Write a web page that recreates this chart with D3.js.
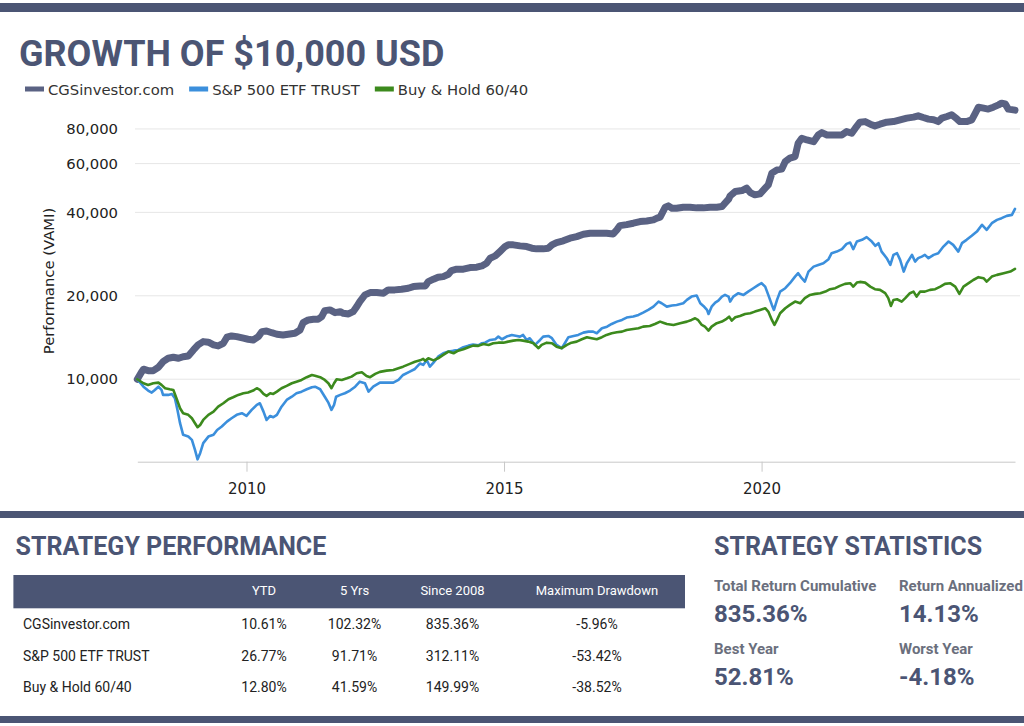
<!DOCTYPE html>
<html><head><meta charset="utf-8">
<script src="https://cdn.jsdelivr.net/npm/d3@7"></script>
<style>body{margin:0;background:#fff}svg{display:block}</style>
</head><body><svg id="c" width="1024" height="726"></svg>
<script>
// ---------- DATA ----------
const seriesNames = ["CGSinvestor.com", "S&P 500 ETF TRUST", "Buy & Hold 60/40"];

const cgsYears = [2007.88,2007.96,2008.00,2008.09,2008.19,2008.29,2008.38,2008.48,2008.58,2008.68,2008.77,2008.87,2008.97,2009.06,2009.16,2009.26,2009.36,2009.45,2009.55,2009.62,2009.71,2009.81,2009.94,2010.03,2010.13,2010.23,2010.30,2010.39,2010.49,2010.59,2010.71,2010.84,2010.94,2011.04,2011.10,2011.20,2011.30,2011.39,2011.46,2011.52,2011.62,2011.72,2011.82,2011.88,2011.98,2012.07,2012.14,2012.20,2012.30,2012.40,2012.53,2012.66,2012.75,2012.88,2013.01,2013.14,2013.24,2013.37,2013.47,2013.53,2013.63,2013.72,2013.82,2013.92,2013.98,2014.08,2014.21,2014.34,2014.47,2014.57,2014.66,2014.73,2014.83,2014.92,2015.02,2015.08,2015.18,2015.31,2015.44,2015.54,2015.63,2015.76,2015.86,2015.93,2016.02,2016.15,2016.28,2016.41,2016.54,2016.67,2016.86,2016.99,2017.12,2017.19,2017.25,2017.38,2017.51,2017.64,2017.77,2017.90,2017.97,2018.03,2018.13,2018.19,2018.26,2018.35,2018.48,2018.61,2018.74,2018.87,2019.00,2019.13,2019.23,2019.29,2019.36,2019.39,2019.49,2019.62,2019.71,2019.78,2019.87,2019.97,2020.07,2020.13,2020.20,2020.30,2020.39,2020.46,2020.55,2020.65,2020.71,2020.78,2020.88,2021.01,2021.10,2021.17,2021.27,2021.39,2021.56,2021.65,2021.75,2021.82,2021.91,2022.01,2022.11,2022.20,2022.30,2022.43,2022.56,2022.69,2022.82,2022.95,2023.04,2023.14,2023.24,2023.34,2023.43,2023.50,2023.60,2023.69,2023.79,2023.85,2023.98,2024.08,2024.15,2024.21,2024.31,2024.40,2024.50,2024.60,2024.66,2024.73,2024.79,2024.92];
const cgsValues = [10000,10600,10870,10740,10740,11050,11570,11900,12000,11900,12060,12130,12760,13300,13670,13600,13300,13190,13480,14180,14330,14250,14060,13940,13860,14250,14850,14930,14720,14530,14450,14570,14650,15060,16000,16370,16460,16460,16820,17680,17790,17390,17530,17300,17200,17530,18280,19050,20150,20540,20540,20440,21010,21010,21130,21300,21590,21710,21710,22500,22960,23340,23460,23930,24660,24950,24950,25280,25370,25640,26220,27340,27860,28880,30110,30540,30540,30280,30110,29710,29540,29540,29710,30540,31130,31570,32280,32710,33370,33650,33650,33650,33450,34580,35830,36130,36560,37050,37260,37580,38120,38430,41770,42220,41420,41420,41770,41770,41530,41530,41770,41770,41990,43170,44650,45890,47560,47950,48920,47160,46280,46660,48920,50280,55420,56960,57290,61020,62770,63610,71020,74040,73000,71980,76110,77600,76110,76110,76110,78240,77210,80530,84620,85040,83220,82060,83220,84620,85040,86310,87540,88270,89230,87970,86820,86310,85040,87540,88710,89970,87040,85040,85040,86310,91250,95890,95100,94350,95890,97730,99120,98550,94350,93540];

const spyYears = [2007.88,2008.00,2008.09,2008.16,2008.22,2008.29,2008.35,2008.38,2008.48,2008.55,2008.61,2008.66,2008.71,2008.77,2008.87,2008.94,2009.00,2009.05,2009.10,2009.16,2009.26,2009.36,2009.43,2009.52,2009.62,2009.71,2009.81,2009.91,2010.00,2010.10,2010.20,2010.26,2010.33,2010.39,2010.46,2010.52,2010.59,2010.68,2010.78,2010.88,2010.97,2011.07,2011.17,2011.27,2011.33,2011.43,2011.52,2011.59,2011.65,2011.70,2011.74,2011.82,2011.91,2012.01,2012.11,2012.20,2012.30,2012.37,2012.46,2012.59,2012.72,2012.85,2012.95,2013.04,2013.17,2013.27,2013.37,2013.43,2013.50,2013.56,2013.63,2013.72,2013.82,2013.92,2014.02,2014.11,2014.21,2014.31,2014.40,2014.50,2014.57,2014.63,2014.73,2014.83,2014.89,2014.96,2015.05,2015.15,2015.25,2015.31,2015.37,2015.44,2015.50,2015.60,2015.70,2015.76,2015.86,2015.93,2016.02,2016.12,2016.18,2016.25,2016.35,2016.44,2016.54,2016.64,2016.73,2016.80,2016.90,2017.00,2017.09,2017.19,2017.29,2017.38,2017.51,2017.61,2017.70,2017.80,2017.90,2018.00,2018.06,2018.16,2018.26,2018.35,2018.48,2018.55,2018.64,2018.74,2018.81,2018.87,2018.94,2018.97,2019.03,2019.10,2019.16,2019.23,2019.29,2019.36,2019.39,2019.45,2019.55,2019.65,2019.74,2019.84,2019.94,2020.00,2020.07,2020.13,2020.20,2020.24,2020.30,2020.36,2020.46,2020.55,2020.65,2020.71,2020.78,2020.84,2020.91,2021.01,2021.10,2021.20,2021.30,2021.36,2021.46,2021.56,2021.65,2021.72,2021.78,2021.85,2021.95,2022.04,2022.14,2022.21,2022.27,2022.33,2022.43,2022.50,2022.56,2022.63,2022.69,2022.76,2022.82,2022.92,2022.98,2023.04,2023.11,2023.17,2023.24,2023.34,2023.43,2023.53,2023.63,2023.72,2023.82,2023.89,2023.98,2024.08,2024.18,2024.28,2024.37,2024.47,2024.57,2024.66,2024.76,2024.86,2024.92];
const spyValues = [10000,9400,9100,8950,9150,9400,9150,8780,8780,8850,8540,7750,6940,6300,6210,6040,5560,5140,5410,5880,6210,6300,6560,6750,7030,7230,7440,7540,7370,7750,8080,8190,7640,7130,7370,7290,7440,7960,8420,8650,8900,9020,9200,9360,9400,9200,8650,8230,7750,8080,8650,8780,8900,9100,9400,9800,9670,9020,9400,9720,9720,9720,9940,10360,10650,10890,11400,11260,11740,11100,11480,12060,12410,12580,12680,12750,13050,13220,13330,13260,13490,13550,13860,13940,14250,13940,14250,14450,14330,14250,14450,13860,14060,13300,13860,14250,14330,14060,13300,12940,13490,14180,14330,14450,14730,14850,14850,14650,15280,15480,15830,16140,16370,16690,16830,17060,17390,17790,18280,19050,18800,18280,18440,18540,18800,19330,19870,20040,18800,18390,17790,17200,18280,18900,19210,19870,20150,19870,19060,19870,20440,20150,20710,21300,21900,22210,21590,20150,18540,17790,19330,20710,21300,22210,23460,24140,23150,22510,24460,25490,25850,26220,27110,28500,28880,29460,30790,31130,29460,31390,31840,32570,31390,30290,30970,28880,27340,25850,28100,28500,26960,24460,26220,28100,26580,27340,27710,28100,27340,28100,28500,30110,31390,30540,28880,30970,31840,32920,34100,36070,34590,36560,37580,38120,38860,39180,41210];

const mixYears = [2007.88,2008.00,2008.09,2008.19,2008.29,2008.35,2008.42,2008.51,2008.58,2008.64,2008.71,2008.77,2008.87,2008.94,2009.00,2009.05,2009.10,2009.16,2009.26,2009.36,2009.45,2009.55,2009.65,2009.74,2009.84,2009.94,2010.03,2010.13,2010.20,2010.26,2010.33,2010.39,2010.46,2010.52,2010.59,2010.68,2010.78,2010.88,2010.97,2011.07,2011.17,2011.27,2011.33,2011.43,2011.52,2011.59,2011.65,2011.70,2011.75,2011.85,2011.95,2012.04,2012.14,2012.24,2012.33,2012.40,2012.50,2012.59,2012.72,2012.85,2012.95,2013.04,2013.17,2013.27,2013.37,2013.43,2013.47,2013.53,2013.63,2013.72,2013.82,2013.92,2014.02,2014.11,2014.21,2014.31,2014.40,2014.50,2014.60,2014.70,2014.79,2014.89,2014.99,2015.08,2015.18,2015.28,2015.37,2015.47,2015.57,2015.67,2015.73,2015.83,2015.93,2016.02,2016.12,2016.22,2016.31,2016.41,2016.51,2016.61,2016.70,2016.80,2016.90,2016.99,2017.09,2017.19,2017.29,2017.38,2017.51,2017.61,2017.70,2017.83,2017.93,2018.03,2018.09,2018.16,2018.29,2018.42,2018.55,2018.64,2018.71,2018.77,2018.84,2018.90,2018.97,2019.03,2019.13,2019.23,2019.32,2019.37,2019.42,2019.49,2019.58,2019.68,2019.78,2019.87,2019.97,2020.07,2020.13,2020.20,2020.25,2020.30,2020.36,2020.46,2020.55,2020.65,2020.75,2020.84,2020.94,2021.04,2021.14,2021.24,2021.33,2021.43,2021.52,2021.62,2021.72,2021.78,2021.85,2021.91,2022.01,2022.11,2022.20,2022.30,2022.40,2022.46,2022.51,2022.56,2022.63,2022.72,2022.79,2022.88,2022.95,2023.01,2023.08,2023.17,2023.27,2023.37,2023.47,2023.56,2023.66,2023.76,2023.84,2023.92,2024.02,2024.11,2024.21,2024.31,2024.37,2024.47,2024.57,2024.70,2024.83,2024.92];
const mixValues = [10000,9670,9540,9670,9720,9540,9280,9200,9150,8540,7860,7540,7440,7230,6940,6710,6840,7130,7440,7640,7960,8190,8470,8610,8780,8900,8950,9100,9280,9150,8850,8710,8900,8850,9020,9280,9460,9670,9800,9940,10170,10360,10300,10170,9940,9670,9280,9670,10000,9940,10080,10220,10510,10600,10280,10170,10450,10630,10740,10800,10960,11100,11360,11570,11700,11840,11650,11900,11700,11900,12240,12580,12410,12680,12830,13050,13220,13190,13410,13300,13490,13550,13550,13670,13780,13860,13780,13670,13490,12940,13300,13550,13490,13110,12940,13300,13550,13670,13940,14180,14060,13940,14180,14450,14650,14770,14850,15060,15190,15280,15480,15570,15830,16140,16000,15830,15700,15930,16140,16370,16600,16330,15700,15480,14980,15480,15930,16140,16520,16820,16280,16740,16920,17200,17300,17540,17790,18040,17540,16370,15700,16370,17300,18040,18540,19060,18800,19610,20150,20320,20440,20710,21130,21310,21720,22080,22210,21590,22320,22450,22320,21590,21130,21010,20440,19610,18390,19330,19440,19060,19610,20440,20710,19870,20710,20710,21010,21130,21590,22080,22210,21590,20320,21590,22210,22810,23350,23150,22510,23460,23800,24140,24460,25000];

const yTickValues = [10000, 20000, 40000, 60000, 80000];
const xTickValues = [2010, 2015, 2020];

const tableColumns = ["YTD", "5 Yrs", "Since 2008", "Maximum Drawdown"];
const tableRowNames = ["CGSinvestor.com", "S&P 500 ETF TRUST", "Buy & Hold 60/40"];
const ytdValues = ["10.61%", "26.77%", "12.80%"];
const fiveYearValues = ["102.32%", "91.71%", "41.59%"];
const since2008Values = ["835.36%", "312.11%", "149.99%"];
const maxDrawdownValues = ["-5.96%", "-53.42%", "-38.52%"];

const statLabels = ["Total Return Cumulative", "Return Annualized", "Best Year", "Worst Year"];
const statValues = ["835.36%", "14.13%", "52.81%", "-4.18%"];

// ---------- STYLE ----------
const slate = "#4b5574";
const colors = ["#5a6283", "#3b8fdc", "#3c8a1d"];
const widths = [7, 2.6, 2.6];

const svg = d3.select("#c");

// bars
[[3, 9], [511, 7], [716, 7]].forEach(([yy, h]) =>
  svg.append("rect").attr("x", 0).attr("y", yy).attr("width", 1024).attr("height", h).attr("fill", slate));

// title
svg.append("text").attr("x", 19).attr("y", 66).text("GROWTH OF $10,000 USD")
  .attr("font-family", "Roboto").attr("font-weight", 700).attr("font-size", 36).attr("fill", slate);

// legend
let lx = 25;
seriesNames.forEach((n, i) => {
  svg.append("rect").attr("x", lx).attr("y", 86.5).attr("width", 19).attr("height", 5).attr("fill", colors[i]);
  const t = svg.append("text").attr("x", lx + 23).attr("y", 94.5).text(n)
    .attr("font-family", "DejaVu Sans").attr("font-size", 14.8).attr("fill", "#333");
  lx += 23 + t.node().getComputedTextLength() + 15;
});

// scales
const x = d3.scaleLinear().domain([2007.88, 2024.92]).range([137.3, 1015]);
const y = d3.scaleLog().domain([5040, 100000]).range([461.7, 102.1]);

// gridlines
svg.append("g").selectAll("line").data(yTickValues).join("line")
  .attr("x1", 135).attr("x2", 1020).attr("y1", d => y(d)).attr("y2", d => y(d))
  .attr("stroke", "#e6e6e6").attr("stroke-width", 1);

// y axis
const yAxis = svg.append("g").attr("transform", "translate(135,0)")
  .call(d3.axisLeft(y).tickValues(yTickValues).tickFormat(d3.format(",")).tickSize(0).tickPadding(17));
yAxis.select(".domain").remove();
yAxis.selectAll("text").attr("font-family", "DejaVu Sans").attr("font-size", 14.8).attr("fill", "#222");

svg.append("text").attr("transform", "translate(48.5,281) rotate(-90)")
  .attr("text-anchor", "middle").attr("dominant-baseline", "central")
  .attr("font-family", "DejaVu Sans").attr("font-size", 14.8).attr("fill", "#222")
  .text("Performance (VAMI)");

// x axis
const xAxis = svg.append("g").attr("transform", `translate(0,${y(5040)})`)
  .call(d3.axisBottom(x).tickValues(xTickValues).tickFormat(d3.format("d")).tickSize(10).tickSizeOuter(0).tickPadding(12));
xAxis.select(".domain").attr("stroke", "#c8c8c8");
xAxis.selectAll(".tick line").attr("stroke", "#c8c8c8");
xAxis.selectAll("text").attr("font-family", "DejaVu Sans").attr("font-size", 15).attr("fill", "#222");

// lines
const line = d3.line().x(d => x(d[0])).y(d => y(d[1]));
const series = [
  d3.zip(cgsYears, cgsValues),
  d3.zip(spyYears, spyValues),
  d3.zip(mixYears, mixValues)
];
series.forEach((s, i) => {
  svg.append("path").datum(s).attr("d", line).attr("fill", "none")
    .attr("stroke", colors[i]).attr("stroke-width", widths[i])
    .attr("stroke-linejoin", "round").attr("stroke-linecap", "round");
});

// strategy performance
svg.append("text").attr("x", 15.6).attr("y", 555).text("STRATEGY PERFORMANCE")
  .attr("font-family", "Roboto").attr("font-weight", 700).attr("font-size", 25).attr("fill", slate);

svg.append("rect").attr("x", 13.4).attr("y", 575).attr("width", 671.6).attr("height", 33.3).attr("fill", slate);
const colX = [264, 354.5, 452.5, 597];
tableColumns.forEach((c, i) => {
  svg.append("text").attr("x", colX[i]).attr("y", 595).attr("text-anchor", "middle").text(c)
    .attr("font-family", "Roboto").attr("font-size", 13).attr("fill", "#fff");
});
const cols = [ytdValues, fiveYearValues, since2008Values, maxDrawdownValues];
const rowY = [629, 660.7, 692.3];
tableRowNames.forEach((r, j) => {
  svg.append("text").attr("x", 23).attr("y", rowY[j]).text(r)
    .attr("font-family", "Roboto").attr("font-size", 14).attr("fill", "#222");
  cols.forEach((col, i) => {
    svg.append("text").attr("x", colX[i]).attr("y", rowY[j]).attr("text-anchor", "middle").text(col[j])
      .attr("font-family", "Roboto").attr("font-size", 14).attr("fill", "#222");
  });
});

// strategy statistics
svg.append("text").attr("x", 714).attr("y", 555).text("STRATEGY STATISTICS")
  .attr("font-family", "Roboto").attr("font-weight", 700).attr("font-size", 25).attr("fill", slate);
const statX = [714, 899, 714, 899];
const statLabelY = [591, 591, 654, 654];
const statValueY = [622, 622, 685, 685];
statLabels.forEach((l, i) => {
  svg.append("text").attr("x", statX[i]).attr("y", statLabelY[i]).text(l)
    .attr("font-family", "Roboto").attr("font-weight", 700).attr("font-size", 15).attr("fill", "#6b6f7d");
  svg.append("text").attr("x", statX[i]).attr("y", statValueY[i]).text(statValues[i])
    .attr("font-family", "Roboto").attr("font-weight", 700).attr("font-size", 24).attr("fill", slate);
});
</script></body></html>
